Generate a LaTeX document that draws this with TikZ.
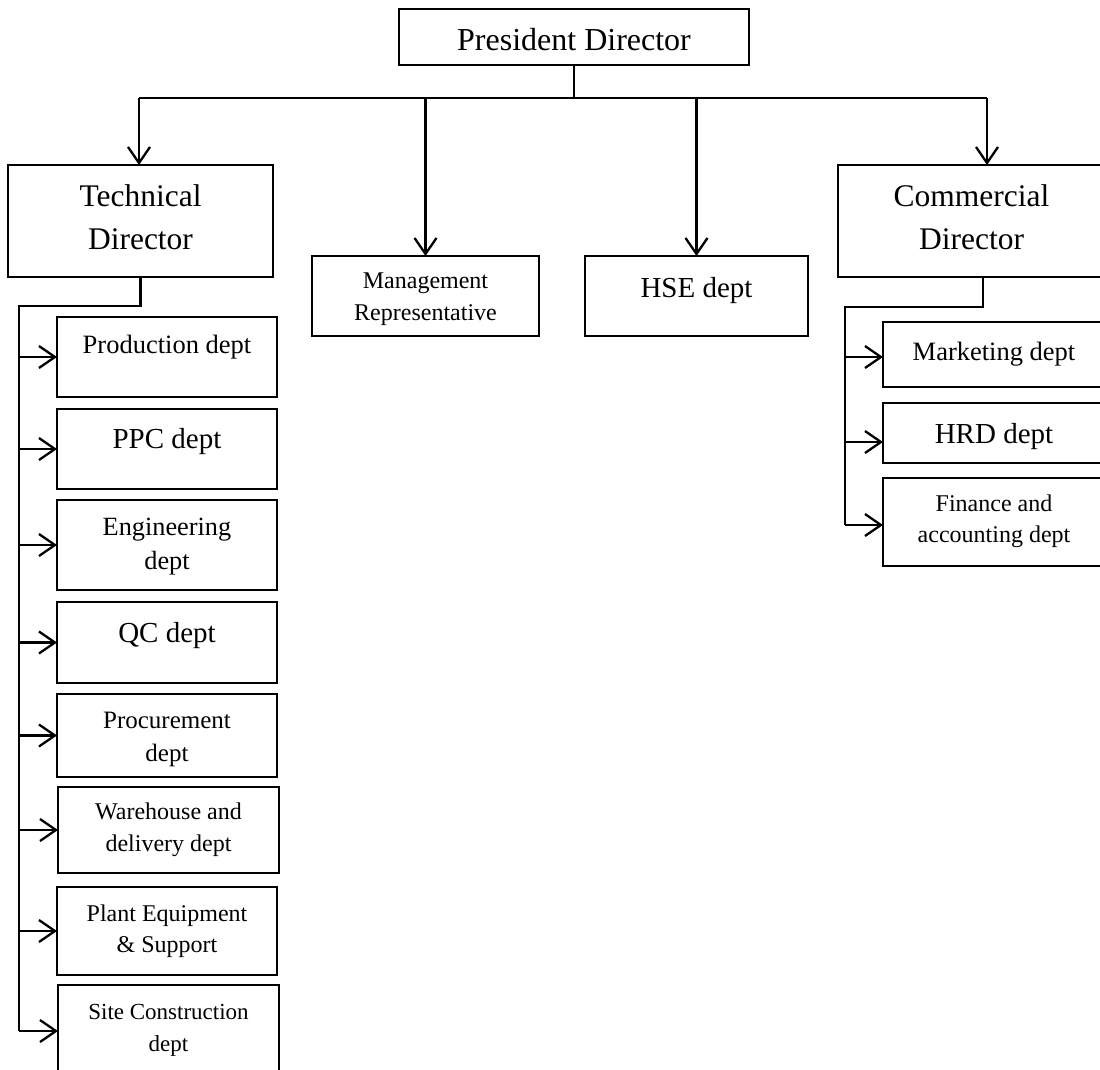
\documentclass[tikz,border=0pt]{standalone}
\usepackage{fontspec}
\setmainfont{Liberation Serif}
\usetikzlibrary{arrows.meta}
\begin{document}
\begin{tikzpicture}[x=1pt,y=-1pt,
  conn/.style={line width=2.3pt, line join=miter},
  arr/.style={conn, -{Straight Barb[length=16pt,width=22pt]}},
  box/.style={draw, line width=2.3pt, inner sep=0pt, outer sep=0pt},
  lbl/.style={anchor=north, align=center, inner sep=0pt},
  fs/.style 2 args={font=\fontsize{#1}{#2}\selectfont},
]
\useasboundingbox (0,0) rectangle (1100,1069);
\clip (0,0) rectangle (1100,1069);

% top level
\node[box, minimum width=350pt, minimum height=56pt] (pres) at (574,37) {};
\node[box, minimum width=265pt, minimum height=112pt] (tech) at (140.5,221) {};
\node[box, minimum width=227pt, minimum height=80pt] (mgmt) at (425.5,296) {};
\node[box, minimum width=223pt, minimum height=80pt] (hse) at (696.5,296) {};
\node[box, minimum width=267pt, minimum height=112pt] (comm) at (971.5,221) {};

% technical departments
\node[box, minimum width=220pt, minimum height=80pt] (prod) at (167,357) {};
\node[box, minimum width=220pt, minimum height=80pt] (ppc) at (167,449) {};
\node[box, minimum width=220pt, minimum height=90pt] (eng) at (167,545) {};
\node[box, minimum width=220pt, minimum height=81pt] (qc) at (167,642.5) {};
\node[box, minimum width=220pt, minimum height=83pt] (proc) at (167,735.5) {};
\node[box, minimum width=221pt, minimum height=86pt] (ware) at (168.5,830) {};
\node[box, minimum width=220pt, minimum height=88pt] (plant) at (167,931) {};
\node[box, minimum width=221pt, minimum height=92pt] (site) at (168.5,1031) {};

% commercial departments
\node[box, minimum width=222pt, minimum height=65pt] (mkt) at (994,354.5) {};
\node[box, minimum width=222pt, minimum height=60pt] (hrd) at (994,433) {};
\node[box, minimum width=222pt, minimum height=88pt] (fin) at (994,522) {};

% labels
\node[lbl, fs={32}{38}] (presT) at (pres.north |- 0,28) {President Director};
\node[lbl, fs={31.5}{43}] (techT) at (tech.north |- 0,184) {Technical\\Director};
\node[lbl, fs={31.5}{43}] (commT) at (comm.north |- 0,184) {Commercial\\Director};
\node[lbl, fs={24}{32}] (mgmtT) at (mgmt.north |- 0,273) {Management\\Representative};
\node[lbl, fs={29}{35}] (hseT) at (hse.north |- 0,277) {HSE dept};
\node[lbl, fs={26.5}{34}] (prodT) at (prod.north |- 0,335) {Production dept};
\node[lbl, fs={29}{35}] (ppcT) at (ppc.north |- 0,428) {PPC dept};
\node[lbl, fs={26.3}{34}] (engT) at (eng.north |- 0,518) {Engineering\\dept};
\node[lbl, fs={29}{35}] (qcT) at (qc.north |- 0,622) {QC dept};
\node[lbl, fs={25}{33}] (procT) at (proc.north |- 0,712) {Procurement\\dept};
\node[lbl, fs={24}{32}] (wareT) at (ware.north |- 0,803) {Warehouse and\\delivery dept};
\node[lbl, fs={24}{31}] (plantT) at (plant.north |- 0,905) {Plant Equipment\\\& Support};
\node[lbl, fs={23}{32}] (siteT) at (site.north |- 0,1004) {Site Construction\\dept};
\node[lbl, fs={26.5}{34}] (mktT) at (mkt.north |- 0,342) {Marketing dept};
\node[lbl, fs={29}{35}] (hrdT) at (hrd.north |- 0,423) {HRD dept};
\node[lbl, fs={24}{31}] (finT) at (fin.north |- 0,495) {Finance and\\accounting dept};

% president to directors
\coordinate (busL) at (139,98);
\coordinate (busR) at (987,98);
\draw[conn] (pres.south) -- (pres.south |- busL);
\draw[conn] (busL) -- (busR);
\draw[arr] (busL) -- (busL |- tech.north);
\draw[arr] (mgmt.north |- busL) -- (mgmt.north);
\draw[arr] (hse.north |- busL) -- (hse.north);
\draw[arr] (busR) -- (busR |- comm.north);

% technical director branch
\coordinate (tTop) at (19,306);
\draw[conn] (tech.south) |- (tTop) -- (tTop |- site.west);
\foreach \b in {prod,ppc,eng,qc,proc,ware,plant,site}
  \draw[arr] (tTop |- \b.west) -- (\b.west);

% commercial director branch
\coordinate (cDrop) at (983,307);
\coordinate (cTop) at (845,307);
\draw[conn] (cDrop |- comm.south) -- (cDrop) -- (cTop) -- (cTop |- 0,525);
\draw[arr] (cTop |- 0,357) -- (mkt.west |- 0,357);
\draw[arr] (cTop |- 0,442) -- (hrd.west |- 0,442);
\draw[arr] (cTop |- 0,525) -- (fin.west |- 0,525);
\end{tikzpicture}
\end{document}
